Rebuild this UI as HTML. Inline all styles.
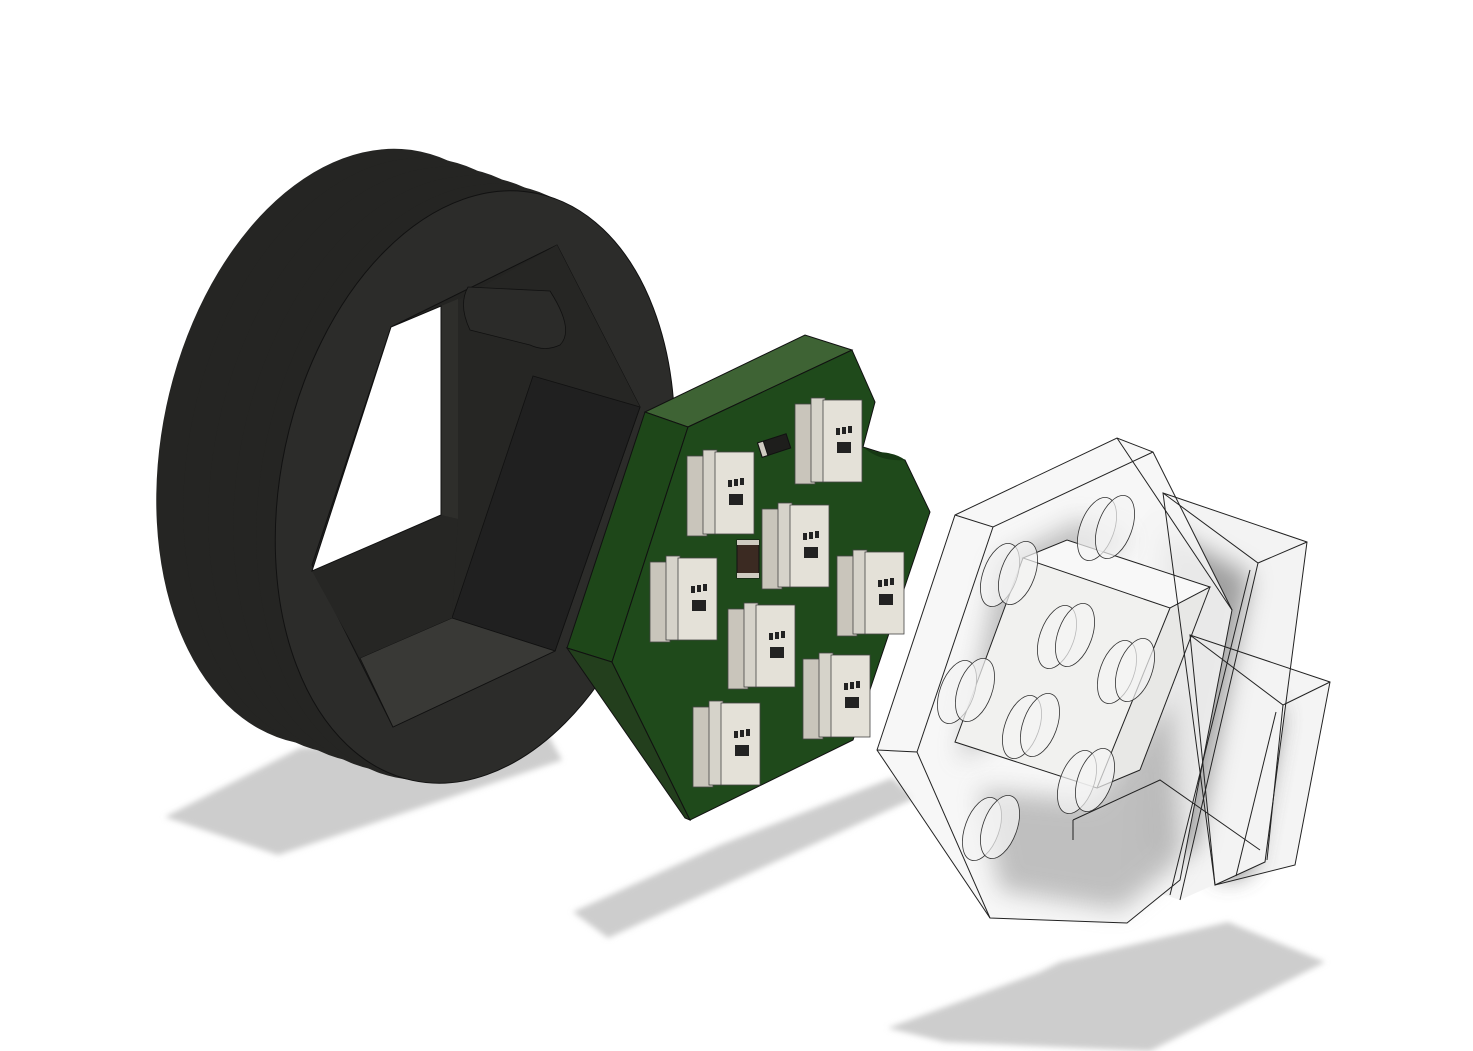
<!DOCTYPE html>
<html><head><meta charset="utf-8"><style>html,body{margin:0;padding:0;background:#fff}svg{display:block}</style></head>
<body>
<svg width="1473" height="1051" viewBox="0 0 1473 1051" xmlns="http://www.w3.org/2000/svg">
<defs>
<filter id="bl" x="-20%" y="-20%" width="140%" height="140%"><feGaussianBlur stdDeviation="3"/></filter>
<filter id="bl2" x="-50%" y="-50%" width="200%" height="200%"><feGaussianBlur stdDeviation="12"/></filter>
</defs>

<!-- shadows -->
<polygon points="165,817 300,748 545,730 562,760 278,855" fill="#cdcdcd" filter="url(#bl)"/>
<polygon points="573,912 608,938 915,798 892,778 720,845" fill="#cdcdcd" filter="url(#bl)"/>
<polygon points="888,1028 945,1042 1150,1051 1325,962 1228,922 1060,962 1040,972" fill="#cdcdcd" filter="url(#bl)"/>

<!-- ring -->
<g>
<g fill="#252523">
<ellipse cx="358" cy="447" rx="196" ry="302" transform="rotate(12 358 447)"/>
<ellipse cx="385" cy="456" rx="196" ry="302" transform="rotate(12 385 456)"/>
<ellipse cx="410" cy="465" rx="196" ry="302" transform="rotate(12 410 465)"/>
<ellipse cx="435" cy="474" rx="196" ry="302" transform="rotate(12 435 474)"/>
<ellipse cx="458" cy="482" rx="196" ry="302" transform="rotate(12 458 482)"/>
</g>
<ellipse cx="475" cy="487" rx="194" ry="300" transform="rotate(12 475 487)" fill="#2c2c2a" stroke="#111" stroke-width="1"/>
<polygon points="391,327 557,245 640,407 555,651 393,727 312,565" fill="#242422" stroke="#111"/>
<polygon points="458,300 557,245 640,407 533,376 452,618 458,519" fill="#262624"/>
<polygon points="533,376 640,407 555,651 452,618" fill="#202020" stroke="#111" stroke-width="0.8"/>
<polygon points="360,658 452,618 555,651 393,727" fill="#393936" stroke="#111" stroke-width="0.8"/>
<polygon points="312,571 441,515 458,519 452,618 360,658" fill="#262624"/>
<polygon points="441,306 458,299 458,519 441,515" fill="#2e2e2b"/>
<polygon points="391,327 441,306 441,515 312,571" fill="#ffffff" stroke="#111"/>
<path d="M468,287 L550,291 Q575,330 560,345 Q545,352 530,345 L470,330 Q458,305 468,287 Z" fill="#2b2b29" stroke="#111" stroke-width="0.8"/>
</g>

<!-- pcb -->
<g stroke="#111" stroke-width="1">
<polygon points="645,412 805,335 852,350 688,427" fill="#3e6334"/>
<polygon points="567,648 645,412 688,427 612,662" fill="#1e4719"/>
<polygon points="567,648 612,662 690,820 685,818" fill="#233f1d"/>
<polygon points="688,427 852,350 875,402 863,447 905,460 930,512 853,740 690,820 612,662" fill="#1f4a1b"/>
<path d="M863,447 Q880,462 905,460 Q895,452 875,452 Z" fill="#163813" stroke="none"/>
<rect x="759" y="438" width="30" height="15" fill="#1e1e1c" transform="rotate(-18 774 445)"/>
<rect x="759" y="438" width="6" height="15" fill="#cfcbc1" transform="rotate(-18 774 445)"/>
<rect x="737" y="540" width="22" height="38" fill="#3b2a22"/>
<rect x="737" y="540" width="22" height="5" fill="#cfcbc1" stroke="none"/>
<rect x="737" y="573" width="22" height="5" fill="#cfcbc1" stroke="none"/>
</g>
<g stroke="#444" stroke-width="0.8">
<g transform="translate(707,452)"><rect x="-20" y="4" width="20" height="80" fill="#c9c5bb"/><rect x="-4" y="-2" width="14" height="84" fill="#d6d3ca"/><rect x="8" y="0" width="39" height="82" fill="#e4e1d8"/><rect x="21" y="28" width="4" height="7" fill="#222" stroke="none"/><rect x="27" y="27" width="4" height="7" fill="#222" stroke="none"/><rect x="33" y="26" width="4" height="7" fill="#222" stroke="none"/><rect x="22" y="42" width="14" height="11" fill="#222" stroke="none"/></g>
<g transform="translate(815,400)"><rect x="-20" y="4" width="20" height="80" fill="#c9c5bb"/><rect x="-4" y="-2" width="14" height="84" fill="#d6d3ca"/><rect x="8" y="0" width="39" height="82" fill="#e4e1d8"/><rect x="21" y="28" width="4" height="7" fill="#222" stroke="none"/><rect x="27" y="27" width="4" height="7" fill="#222" stroke="none"/><rect x="33" y="26" width="4" height="7" fill="#222" stroke="none"/><rect x="22" y="42" width="14" height="11" fill="#222" stroke="none"/></g>
<g transform="translate(782,505)"><rect x="-20" y="4" width="20" height="80" fill="#c9c5bb"/><rect x="-4" y="-2" width="14" height="84" fill="#d6d3ca"/><rect x="8" y="0" width="39" height="82" fill="#e4e1d8"/><rect x="21" y="28" width="4" height="7" fill="#222" stroke="none"/><rect x="27" y="27" width="4" height="7" fill="#222" stroke="none"/><rect x="33" y="26" width="4" height="7" fill="#222" stroke="none"/><rect x="22" y="42" width="14" height="11" fill="#222" stroke="none"/></g>
<g transform="translate(670,558)"><rect x="-20" y="4" width="20" height="80" fill="#c9c5bb"/><rect x="-4" y="-2" width="14" height="84" fill="#d6d3ca"/><rect x="8" y="0" width="39" height="82" fill="#e4e1d8"/><rect x="21" y="28" width="4" height="7" fill="#222" stroke="none"/><rect x="27" y="27" width="4" height="7" fill="#222" stroke="none"/><rect x="33" y="26" width="4" height="7" fill="#222" stroke="none"/><rect x="22" y="42" width="14" height="11" fill="#222" stroke="none"/></g>
<g transform="translate(857,552)"><rect x="-20" y="4" width="20" height="80" fill="#c9c5bb"/><rect x="-4" y="-2" width="14" height="84" fill="#d6d3ca"/><rect x="8" y="0" width="39" height="82" fill="#e4e1d8"/><rect x="21" y="28" width="4" height="7" fill="#222" stroke="none"/><rect x="27" y="27" width="4" height="7" fill="#222" stroke="none"/><rect x="33" y="26" width="4" height="7" fill="#222" stroke="none"/><rect x="22" y="42" width="14" height="11" fill="#222" stroke="none"/></g>
<g transform="translate(748,605)"><rect x="-20" y="4" width="20" height="80" fill="#c9c5bb"/><rect x="-4" y="-2" width="14" height="84" fill="#d6d3ca"/><rect x="8" y="0" width="39" height="82" fill="#e4e1d8"/><rect x="21" y="28" width="4" height="7" fill="#222" stroke="none"/><rect x="27" y="27" width="4" height="7" fill="#222" stroke="none"/><rect x="33" y="26" width="4" height="7" fill="#222" stroke="none"/><rect x="22" y="42" width="14" height="11" fill="#222" stroke="none"/></g>
<g transform="translate(823,655)"><rect x="-20" y="4" width="20" height="80" fill="#c9c5bb"/><rect x="-4" y="-2" width="14" height="84" fill="#d6d3ca"/><rect x="8" y="0" width="39" height="82" fill="#e4e1d8"/><rect x="21" y="28" width="4" height="7" fill="#222" stroke="none"/><rect x="27" y="27" width="4" height="7" fill="#222" stroke="none"/><rect x="33" y="26" width="4" height="7" fill="#222" stroke="none"/><rect x="22" y="42" width="14" height="11" fill="#222" stroke="none"/></g>
<g transform="translate(713,703)"><rect x="-20" y="4" width="20" height="80" fill="#c9c5bb"/><rect x="-4" y="-2" width="14" height="84" fill="#d6d3ca"/><rect x="8" y="0" width="39" height="82" fill="#e4e1d8"/><rect x="21" y="28" width="4" height="7" fill="#222" stroke="none"/><rect x="27" y="27" width="4" height="7" fill="#222" stroke="none"/><rect x="33" y="26" width="4" height="7" fill="#222" stroke="none"/><rect x="22" y="42" width="14" height="11" fill="#222" stroke="none"/></g>
</g>

<!-- lego -->
<g>
<polygon points="1190,635 1330,682 1295,865 1215,885 1185,870" fill="#f4f4f4"/>
<polygon points="1200,660 1280,712 1250,870 1222,880 1200,830" fill="#555" filter="url(#bl2)" opacity="0.8"/>
<polygon points="1163,493 1307,542 1265,862 1180,900 1120,880 1140,520" fill="#f3f3f3"/>
<polygon points="1165,530 1250,575 1195,850 1150,850" fill="#666" filter="url(#bl2)" opacity="0.6"/>
<polygon points="955,515 1117,438 1153,452 1232,610 1180,880 1127,923 990,918 877,750" fill="#f6f6f6" opacity="0.85"/>
<polygon points="1000,560 1080,520 1130,540 1050,580 990,740 960,760" fill="#888" filter="url(#bl2)" opacity="0.5"/>
<polygon points="980,790 1090,800 1170,700 1180,860 1120,910 1000,890" fill="#888" filter="url(#bl2)" opacity="0.5"/>
<polygon points="1023,558 1067,540 1210,587 1170,608 1097,788 955,742" fill="#f1f1ef"/>
<polygon points="1023,558 1067,540 1210,587 1170,608" fill="#f8f8f8"/>
<polygon points="1170,608 1210,587 1140,770 1097,788" fill="#e8e8e6"/>
<g stroke="#222" stroke-width="1" fill="none">
<polygon points="955,515 1117,438 1153,452 1232,610 1180,880 1127,923 990,918 877,750"/>
<polyline points="955,515 993,527 1153,452"/>
<line x1="993" y1="527" x2="917" y2="752"/>
<polyline points="877,750 917,752 990,918"/>
<line x1="1117" y1="438" x2="1232" y2="610"/>
<polygon points="1163,493 1307,542 1265,862 1215,885"/>
<polyline points="1163,493 1258,563 1307,542"/>
<line x1="1258" y1="563" x2="1180" y2="900"/>
<line x1="1250" y1="570" x2="1170" y2="895"/>
<polygon points="1190,635 1330,682 1295,865 1215,885"/>
<polyline points="1190,635 1283,705 1330,682"/>
<line x1="1283" y1="705" x2="1267" y2="860"/>
<line x1="1276" y1="712" x2="1236" y2="876"/>
<polygon points="1023,558 1067,540 1210,587 1170,608"/>
<polyline points="1023,558 955,742 1097,788 1170,608"/>
<line x1="1097" y1="788" x2="1140" y2="770"/>
<line x1="1140" y1="770" x2="1210" y2="587"/>
<polyline points="1073,820 1160,780 1260,850"/>
<line x1="1073" y1="820" x2="1073" y2="840"/>
</g>
<g stroke="#333" stroke-width="0.8" fill="#f3f3f3" fill-opacity="0.7">
<ellipse cx="1000" cy="575" rx="17" ry="33" transform="rotate(20 1000 575)"/><ellipse cx="1018" cy="573" rx="17" ry="33" transform="rotate(20 1018 573)"/>
<ellipse cx="1097" cy="529" rx="17" ry="33" transform="rotate(20 1097 529)"/><ellipse cx="1115" cy="527" rx="17" ry="33" transform="rotate(20 1115 527)"/>
<ellipse cx="957" cy="692" rx="17" ry="33" transform="rotate(20 957 692)"/><ellipse cx="975" cy="690" rx="17" ry="33" transform="rotate(20 975 690)"/>
<ellipse cx="1057" cy="637" rx="17" ry="33" transform="rotate(20 1057 637)"/><ellipse cx="1075" cy="635" rx="17" ry="33" transform="rotate(20 1075 635)"/>
<ellipse cx="1117" cy="672" rx="17" ry="33" transform="rotate(20 1117 672)"/><ellipse cx="1135" cy="670" rx="17" ry="33" transform="rotate(20 1135 670)"/>
<ellipse cx="1022" cy="727" rx="17" ry="33" transform="rotate(20 1022 727)"/><ellipse cx="1040" cy="725" rx="17" ry="33" transform="rotate(20 1040 725)"/>
<ellipse cx="1077" cy="782" rx="17" ry="33" transform="rotate(20 1077 782)"/><ellipse cx="1095" cy="780" rx="17" ry="33" transform="rotate(20 1095 780)"/>
<ellipse cx="982" cy="829" rx="17" ry="33" transform="rotate(20 982 829)"/><ellipse cx="1000" cy="827" rx="17" ry="33" transform="rotate(20 1000 827)"/>
</g>
</g>
</svg>
</body></html>
